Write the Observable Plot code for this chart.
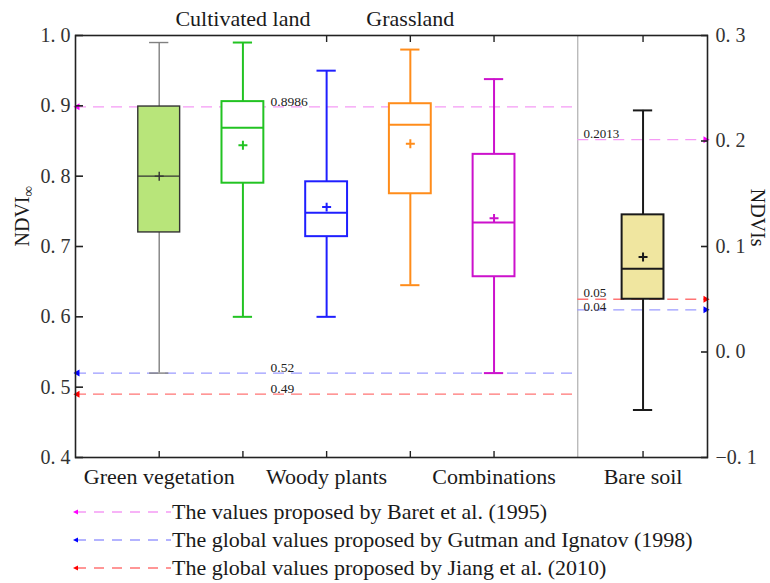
<!DOCTYPE html>
<html>
<head>
<meta charset="utf-8">
<script src="https://cdn.jsdelivr.net/npm/d3@7"></script>
<script src="https://cdn.jsdelivr.net/npm/@observablehq/plot@0.6"></script>
<style>
  html, body { margin: 0; padding: 0; background: #fff; }
  #chart { width: 770px; }
  #legend { font-family: "Liberation Serif", "Times New Roman", serif; font-size: 22px; color: #1a1a1a; padding-left: 73px; margin-top: 2px; }
  .row { height: 28px; display: flex; align-items: center; white-space: nowrap; }
  .row svg { display: block; margin-right: 1px; }
</style>
</head>
<body>
<div id="chart"></div>
<div id="legend"></div>
<script>
// ---------- data ----------
const categories = ["Green vegetation", "Cultivated land", "Woody plants", "Grassland", "Combinations"];
const whiskerLow  = [0.52, 0.60, 0.60, 0.645, 0.52];
const q1          = [0.72, 0.79, 0.714, 0.775, 0.657];
const median      = [0.80, 0.869, 0.748, 0.873, 0.734];
const q3          = [0.899, 0.906, 0.792, 0.903, 0.831];
const whiskerHigh = [0.99, 0.99, 0.95, 0.98, 0.938];
const mean        = [0.80, 0.844, 0.756, 0.846, 0.740];

const soilCategory = "Bare soil";
const soilLow = -0.055, soilQ1 = 0.05, soilMedian = 0.079, soilQ3 = 0.13, soilHigh = 0.229, soilMean = 0.09;

const refNames = [
  "The values proposed by Baret et al. (1995)",
  "The global values proposed by Gutman and Ignatov (1998)",
  "The global values proposed by Jiang et al. (2010)"
];
const refVegetation = [0.8986, 0.52, 0.49];   // NDVI∞ (left axis)
const refSoil       = [0.2013, 0.04, 0.05];   // NDVIs (right axis)

const leftTicks  = [0.4, 0.5, 0.6, 0.7, 0.8, 0.9, 1.0];
const rightTicks = [-0.1, 0.0, 0.1, 0.2, 0.3];

// ---------- styles / layout ----------
const boxStroke    = ["#333333", "#22c322", "#1f1fff", "#ff8c1a", "#cc11cc"];
const boxFill      = ["#b8e57a", "#ffffff", "#ffffff", "#ffffff", "#ffffff"];
const whiskerColor = ["#808080", "#22c322", "#1f1fff", "#ff8c1a", "#cc11cc"];
const soilStroke = "#1a1a1a", soilFill = "#f0e6a0";
const refLineColor  = ["#f59af5", "#9b9bff", "#ff7474"];
const refArrowColor = ["#ff00ff", "#0000ff", "#ff0000"];

const xMax = 7.55, divider = 6, soilX = 6.78;
const halfBox = 0.25, halfCap = 0.115;
const leftRange = [0.4, 1.0], rightRange = [-0.1, 0.3];
const toLeft = v => leftRange[0] + (v - rightRange[0]) * (leftRange[1] - leftRange[0]) / (rightRange[1] - rightRange[0]);
const fromLeft = v => rightRange[0] + (v - leftRange[0]) * (rightRange[1] - rightRange[0]) / (leftRange[1] - leftRange[0]);
const tickFmt = v => d3.format(".1f")(v).replace(".", ". ");

const rows = categories.map((c, i) => ({
  c, x: i + 1, lo: whiskerLow[i], q1: q1[i], med: median[i], q3: q3[i], hi: whiskerHigh[i], mean: mean[i],
  stroke: boxStroke[i], fill: boxFill[i], whisk: whiskerColor[i], sw: i === 0 ? 1.4 : 2
}));
rows.push({
  c: soilCategory, x: soilX, lo: toLeft(soilLow), q1: toLeft(soilQ1), med: toLeft(soilMedian),
  q3: toLeft(soilQ3), hi: toLeft(soilHigh), mean: toLeft(soilMean),
  stroke: soilStroke, fill: soilFill, whisk: soilStroke, sw: 2
});

const bottomLabels = new Map([[1, categories[0]], [3, categories[2]], [5, categories[4]], [soilX, soilCategory]]);
const topLabels = new Map([[2, categories[1]], [4, categories[3]]]);
const refIdx = refNames.map((_, i) => i);
// soil labels: the upper of the two close lines is lifted slightly so the labels do not collide
const soilUpper = refIdx.filter(i => i !== 1);
const soilLower = [1];

const chart = Plot.plot({
  width: 770,
  height: 496,
  marginTop: 35,
  marginBottom: 39,
  marginLeft: 75,
  marginRight: 63,
  style: {fontFamily: "'Liberation Serif', 'Times New Roman', serif", fontSize: "20px", background: "#fff", color: "#222"},
  x: {domain: [0, xMax], type: "linear"},
  y: {domain: leftRange},
  marks: [
    Plot.ruleX([divider], {stroke: "#b0b0b0", strokeWidth: 1.2}),
    Plot.ruleY(refIdx, {y: i => refVegetation[i], x1: 0, x2: divider, stroke: i => refLineColor[i], strokeDasharray: "11,7", strokeWidth: 1.3}),
    Plot.ruleY(refIdx, {y: i => toLeft(refSoil[i]), x1: divider, x2: xMax, stroke: i => refLineColor[i], strokeDasharray: "11,7", strokeWidth: 1.3}),
    Plot.ruleX(rows, {x: "x", y1: "lo", y2: "q1", stroke: d => d.whisk, strokeWidth: d => d.sw}),
    Plot.ruleX(rows, {x: "x", y1: "q3", y2: "hi", stroke: d => d.whisk, strokeWidth: d => d.sw}),
    Plot.ruleY(rows, {y: "hi", x1: d => d.x - halfCap, x2: d => d.x + halfCap, stroke: d => d.whisk, strokeWidth: d => d.sw}),
    Plot.ruleY(rows, {y: "lo", x1: d => d.x - halfCap, x2: d => d.x + halfCap, stroke: d => d.whisk, strokeWidth: d => d.sw}),
    Plot.rect(rows, {x1: d => d.x - halfBox, x2: d => d.x + halfBox, y1: "q1", y2: "q3", fill: d => d.fill, stroke: d => d.stroke, strokeWidth: d => d.sw}),
    Plot.ruleY(rows, {y: "med", x1: d => d.x - halfBox, x2: d => d.x + halfBox, stroke: d => d.stroke, strokeWidth: d => d.sw}),
    Plot.dot(rows, {x: "x", y: "mean", symbol: "plus", r: 3, stroke: d => d.stroke, strokeWidth: d => d.sw}),
    Plot.dot(refIdx, {x: 0, y: i => refVegetation[i], symbol: "triangle", rotate: -90, r: 2.6, dx: 2, fill: i => refArrowColor[i], stroke: "none"}),
    Plot.dot(refIdx, {x: xMax, y: i => toLeft(refSoil[i]), symbol: "triangle", rotate: 90, r: 2.6, dx: -2, fill: i => refArrowColor[i], stroke: "none"}),
    Plot.text(refIdx, {x: 2.33, y: i => refVegetation[i], text: i => String(refVegetation[i]), textAnchor: "start", lineAnchor: "bottom", dy: -1, fontSize: 13.5, fill: "#222"}),
    Plot.text(soilUpper, {x: 6.07, y: i => toLeft(refSoil[i]), text: i => String(refSoil[i]), textAnchor: "start", lineAnchor: "bottom", dy: -2, fontSize: 13, fill: "#222"}),
    Plot.text(soilLower, {x: 6.07, y: i => toLeft(refSoil[i]), text: i => String(refSoil[i]), textAnchor: "start", lineAnchor: "bottom", dy: 1, fontSize: 13, fill: "#222"}),
    Plot.frame({stroke: "#222", strokeWidth: 1.6}),
    Plot.axisY({anchor: "left", ticks: leftTicks, tickSize: -8, tickPadding: 13, tickFormat: tickFmt, fontSize: 20, label: null, strokeWidth: 1.6, fill: "#333"}),
    Plot.axisY({anchor: "right", ticks: rightTicks.map(toLeft), tickSize: -7, tickPadding: 15, tickFormat: d => tickFmt(fromLeft(d)), fontSize: 20, label: null, strokeWidth: 1.6, fill: "#333"}),
    Plot.axisX({anchor: "bottom", ticks: [1, 2, 3, 4, 5, soilX], tickSize: -6, tickPadding: 17, tickFormat: d => bottomLabels.get(d) ?? "", fontSize: 22, label: null, strokeWidth: 1.4, fill: "#1a1a1a"}),
    Plot.axisX({anchor: "top", ticks: [3, 4, 5, soilX], tickSize: -6, tickFormat: () => "", label: null, strokeWidth: 1.4}),
    Plot.axisX({anchor: "top", ticks: [2, 4], tickSize: 0, tickPadding: 10, tickFormat: d => topLabels.get(d) ?? "", fontSize: 22, label: null, fill: "#1a1a1a"}),
    Plot.text(["NDVI∞"], {frameAnchor: "left", rotate: -90, dx: -53, text: d => d, fontSize: 20, fill: "#1a1a1a"}),
    Plot.text(["NDVIs"], {frameAnchor: "right", rotate: 90, dx: 50, text: d => d, fontSize: 20, fill: "#1a1a1a"})
  ]
});

chart.querySelectorAll("text").forEach(t => {
  if (t.textContent === "NDVI∞") {
    t.textContent = "NDVI";
    const ts = document.createElementNS("http://www.w3.org/2000/svg", "tspan");
    ts.setAttribute("font-size", "15");
    ts.setAttribute("dy", "4");
    ts.textContent = "∞";
    t.appendChild(ts);
  }
});
document.getElementById("chart").appendChild(chart);

const legend = d3.select("#legend");
refNames.forEach((name, i) => {
  const row = legend.append("div").attr("class", "row");
  const s = row.append("svg").attr("width", 98).attr("height", 10);
  s.append("line").attr("x1", 3).attr("x2", 98).attr("y1", 5).attr("y2", 5)
    .attr("stroke", refLineColor[i]).attr("stroke-width", 1.3).attr("stroke-dasharray", "10,8");
  s.append("path").attr("d", "M0,5L5,2.5L5,7.5Z").attr("fill", refArrowColor[i]);
  row.append("span").text(name);
});
</script>
</body>
</html>
